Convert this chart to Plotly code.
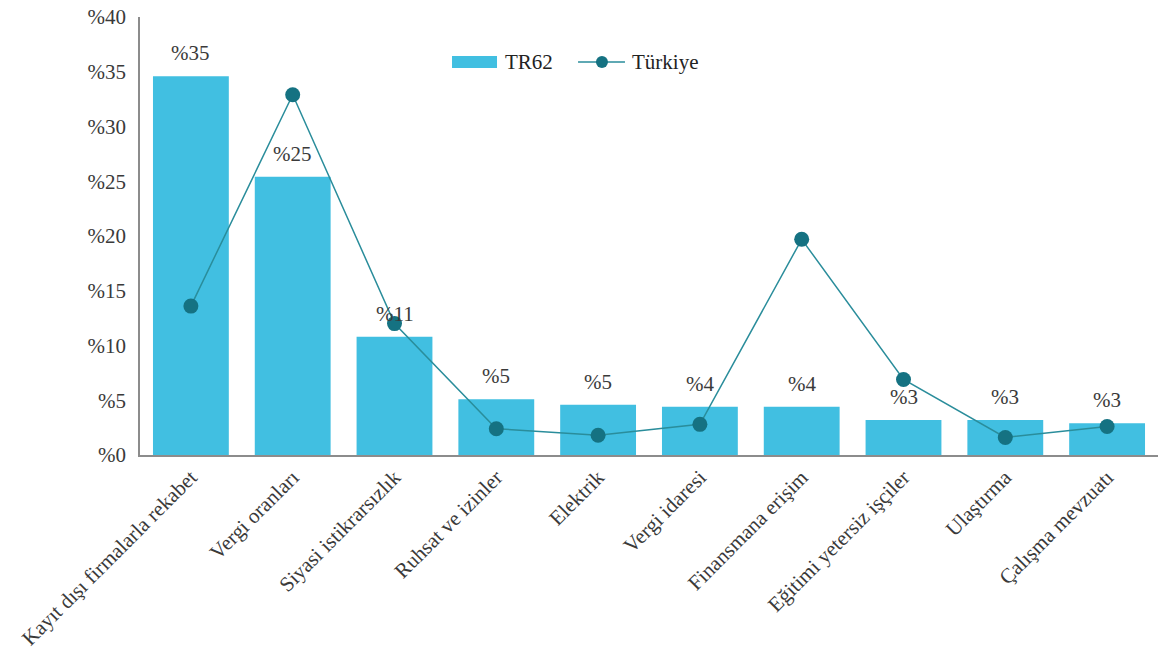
import plotly.graph_objects as go

categories = [
    "Kayıt dışı firmalarla rekabet",
    "Vergi oranları",
    "Siyasi istikrarsızlık",
    "Ruhsat ve izinler",
    "Elektrik",
    "Vergi idaresi",
    "Finansmana erişim",
    "Eğitimi yetersiz işçiler",
    "Ulaştırma",
    "Çalışma mevzuatı",
]
tr62 = [34.6, 25.4, 10.8, 5.1, 4.6, 4.4, 4.4, 3.2, 3.2, 2.9]
turkiye = [13.6, 32.9, 12.0, 2.4, 1.8, 2.8, 19.7, 6.9, 1.6, 2.6]
y_ticks = [0, 5, 10, 15, 20, 25, 30, 35, 40]

FONT = "Liberation Serif"
TEXT = "#3a3a3a"
BAR_COLOR = "#41BFE1"
LINE_COLOR = "#2A8D9B"
MARKER_COLOR = "#157282"

fig = go.Figure()
fig.add_trace(go.Bar(
    x=categories, y=tr62, name="TR62",
    marker=dict(color=BAR_COLOR, line=dict(width=0)),
    showlegend=False,
))
fig.add_trace(go.Scatter(
    x=categories, y=turkiye, name="Türkiye",
    mode="lines+markers",
    line=dict(color=LINE_COLOR, width=1.5),
    marker=dict(color=MARKER_COLOR, size=15),
    showlegend=False,
))

# value labels above the bars
for c, v in zip(categories, tr62):
    fig.add_annotation(
        x=c, y=v, text=f"%{round(v)}", showarrow=False,
        yanchor="bottom", yshift=9,
        font=dict(family=FONT, size=21, color=TEXT),
    )

# legend: wide bar swatch + line-with-marker key
legend_y = 0.897
fig.add_shape(type="rect", xref="paper", yref="paper",
              x0=0.3065, x1=0.3507, y0=0.8836, y1=0.911,
              fillcolor=BAR_COLOR, line=dict(width=0))
fig.add_annotation(xref="paper", yref="paper", x=0.3566, y=legend_y,
                   xanchor="left", yanchor="middle", showarrow=False,
                   text="TR62", font=dict(family=FONT, size=21, color="#222"))
fig.add_shape(type="line", xref="paper", yref="paper",
              x0=0.4303, x1=0.4764, y0=legend_y, y1=legend_y,
              line=dict(color=LINE_COLOR, width=1.5))
fig.add_shape(type="circle", xref="paper", yref="paper",
              xsizemode="pixel", ysizemode="pixel",
              xanchor=0.4538, yanchor=legend_y,
              x0=-6, x1=6, y0=-6, y1=6,
              fillcolor=MARKER_COLOR, line=dict(width=0))
fig.add_annotation(xref="paper", yref="paper", x=0.4813, y=legend_y,
                   xanchor="left", yanchor="middle", showarrow=False,
                   text="Türkiye", font=dict(family=FONT, size=21, color="#222"))

fig.update_layout(
    width=1160, height=655,
    margin=dict(l=140, r=2, t=17, b=200),
    paper_bgcolor="white", plot_bgcolor="white",
    font=dict(family=FONT, size=21, color=TEXT),
    bargap=0.255,
    showlegend=False,
)
fig.update_xaxes(
    range=[-0.5, len(categories) - 0.5],
    tickangle=-45, showgrid=False, showline=True, linecolor="#8c8c8c",
    linewidth=1.5, ticks="", automargin=False,
    tickfont=dict(family=FONT, size=21, color=TEXT),
)
fig.update_yaxes(
    range=[0, 40], tickvals=y_ticks, ticktext=[f"%{t}" for t in y_ticks],
    showgrid=False, showline=True, linecolor="#8c8c8c", linewidth=1.5,
    ticks="", ticklabelstandoff=8, zeroline=False, automargin=False,
    tickfont=dict(family=FONT, size=21, color=TEXT),
)

fig.write_html("out.html")
